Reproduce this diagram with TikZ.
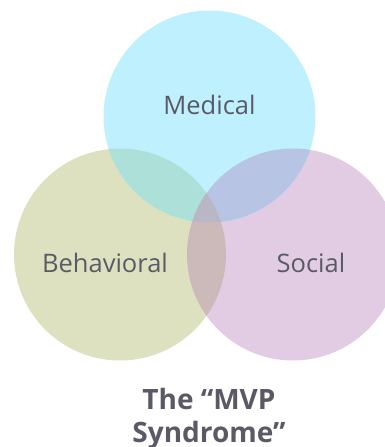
\documentclass[tikz,border=0pt]{standalone}
\usepackage{fontspec}
\setmainfont{Open Sans}

\definecolor{medcol}{HTML}{BEF0FE}
\definecolor{behcol}{HTML}{DEE1C0}
\definecolor{soccol}{HTML}{E2CCE4}
\definecolor{medbeh}{HTML}{ADE0D8}
\definecolor{medsoc}{HTML}{B8C4E3}
\definecolor{behsoc}{HTML}{CCBABB}
\definecolor{allcol}{HTML}{B9B6C6}
\definecolor{textgray}{HTML}{5A5A66}

\begin{document}
\begin{tikzpicture}[x=1pt, y=-1pt,
  lbl/.style={text=textgray, font=\fontsize{25.5}{30}\selectfont, anchor=base, inner sep=0pt},
  ttl/.style={text=textgray, font=\fontsize{28}{33}\selectfont\bfseries, align=center, anchor=north, inner sep=0pt}]
\useasboundingbox (0,0) rectangle (385,447);
\clip (0,0) rectangle (385,447);

\coordinate (med) at (209.5,116.5);
\coordinate (beh) at (120,254.5);
\coordinate (soc) at (293,254.5);

\fill[behcol] (beh) circle (106);
\fill[soccol] (soc) circle (106);
\fill[medcol] (med) circle (106);

% overlaps
\begin{scope}
\clip (med) circle (106);
\fill[medbeh] (beh) circle (106);
\fill[medsoc] (soc) circle (106);
\end{scope}
\begin{scope}
\clip (beh) circle (106);
\fill[behsoc] (soc) circle (106);
\clip (med) circle (106);
\fill[allcol] (soc) circle (106);
\end{scope}

\node[lbl] (medlabel) at (209.5,114.3) {Medical};
\node[lbl] (behlabel) at (105,272) {Behavioral};
\node[lbl] (soclabel) at (311,272) {Social};

\node[ttl] (title) at (209,388) {The “MVP\\Syndrome”};
\end{tikzpicture}
\end{document}
